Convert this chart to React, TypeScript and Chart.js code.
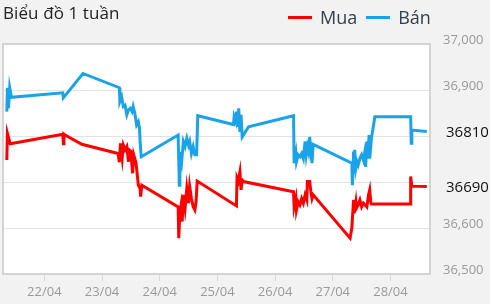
import React, { useEffect, useRef } from 'react';
import { Chart, registerables } from 'chart.js';

Chart.register(...registerables);

const TITLE = 'Biểu đồ 1 tuần';
const SERIES_NAMES = ['Mua', 'Bán'];
const SERIES_COLORS = ['#ff0000', '#1aa3e8'];

const TICK_DAYS = [22, 23, 24, 25, 26, 27, 28];
const TICK_LABELS = ['22/04', '23/04', '24/04', '25/04', '26/04', '27/04', '28/04'];

const Y_MIN = 36500;
const Y_MAX = 37000;
const Y_STEP = 100;
const X_MIN = 21.284;
const X_MAX = 28.685;

// Mua (buy) — time in day-of-month (fractional), value
const buyDays = [
  21.35, 21.36, 21.41, 22.32, 22.33, 22.34, 22.36, 22.65, 23.28, 23.30,
  23.32, 23.35, 23.37, 23.40, 23.43, 23.46, 23.47, 23.50, 23.53, 23.55,
  23.59, 23.63, 23.66, 23.67, 23.69, 24.32, 24.33, 24.35, 24.37, 24.39,
  24.41, 24.44, 24.47, 24.50, 24.52, 24.55, 24.58, 24.61, 24.63, 24.65,
  25.33, 25.34, 25.36, 25.39, 25.41, 25.43, 25.45, 26.32, 26.33, 26.36,
  26.37, 26.40, 26.43, 26.46, 26.49, 26.52, 26.55, 26.56, 26.60, 26.62,
  26.64, 26.66, 27.30, 27.33, 27.36, 27.37, 27.40, 27.41, 27.44, 27.47,
  27.50, 27.53, 27.56, 27.59, 27.62, 27.64, 27.66, 27.67, 28.34, 28.35,
  28.37, 28.63,
];
const buyValues = [
  36748, 36806, 36783, 36804, 36783, 36804, 36802, 36782, 36762, 36743,
  36784, 36752, 36780, 36770, 36777, 36744, 36770, 36767, 36719, 36759,
  36741, 36693, 36686, 36668, 36693, 36646, 36578, 36635, 36650, 36614,
  36672, 36643, 36686, 36654, 36690, 36664, 36646, 36639, 36657, 36702,
  36648, 36708, 36701, 36722, 36683, 36704, 36701, 36679, 36646, 36664,
  36639, 36657, 36650, 36664, 36654, 36672, 36661, 36701, 36701, 36679,
  36664, 36672, 36578, 36600, 36661, 36632, 36657, 36643, 36650, 36661,
  36646, 36654, 36650, 36646, 36672, 36683, 36654, 36652, 36652, 36712,
  36691, 36690,
];

// Bán (sell)
const sellDays = [
  21.35, 21.36, 21.38, 21.40, 21.43, 22.32, 22.33, 22.67, 23.30, 23.31,
  23.34, 23.37, 23.40, 23.43, 23.46, 23.49, 23.52, 23.54, 23.57, 23.60,
  23.63, 23.65, 23.66, 23.68, 24.32, 24.34, 24.35, 24.38, 24.41, 24.44,
  24.47, 24.50, 24.52, 24.55, 24.58, 24.61, 24.64, 24.66, 25.28, 25.29,
  25.32, 25.33, 25.35, 25.37, 25.39, 25.41, 25.43, 25.45, 25.54, 26.32,
  26.33, 26.36, 26.37, 26.40, 26.43, 26.46, 26.49, 26.52, 26.54, 26.56,
  26.58, 26.60, 26.62, 26.64, 26.66, 27.33, 27.34, 27.36, 27.37, 27.38,
  27.40, 27.42, 27.44, 27.47, 27.50, 27.53, 27.55, 27.57, 27.59, 27.60,
  27.63, 27.64, 27.67, 27.73, 28.35, 28.36, 28.37, 28.63,
];
const sellValues = [
  36853, 36905, 36860, 36905, 36884, 36894, 36883, 36936, 36905, 36875,
  36885, 36864, 36867, 36846, 36857, 36860, 36853, 36864, 36849, 36824,
  36831, 36817, 36788, 36755, 36802, 36693, 36766, 36744, 36788, 36777,
  36795, 36780, 36788, 36762, 36777, 36759, 36759, 36844, 36825, 36842,
  36831, 36853, 36820, 36860, 36809, 36846, 36798, 36802, 36820, 36844,
  36741, 36762, 36744, 36759, 36755, 36762, 36751, 36788, 36759, 36777,
  36766, 36798, 36766, 36741, 36782, 36741, 36693, 36766, 36722, 36770,
  36730, 36744, 36737, 36751, 36759, 36748, 36762, 36733, 36788, 36751,
  36802, 36751, 36795, 36842, 36842, 36784, 36813, 36810,
];

const FONT = '"Open Sans", "Noto Sans", sans-serif';

const LAST_VALUES = [buyValues[buyValues.length - 1], sellValues[sellValues.length - 1]];

const toPoints = (xs: number[], ys: number[]) => xs.map((x, i) => ({ x, y: ys[i] }));

const framePlugin = {
  id: 'frame',
  beforeDraw(chart: any) {
    const { ctx, chartArea: a } = chart;
    ctx.save();
    ctx.fillStyle = '#ffffff';
    ctx.fillRect(a.left, a.top, a.right - a.left, a.bottom - a.top);
    ctx.restore();
  },
  afterDatasetsDraw(chart: any) {
    const { ctx, chartArea: a } = chart;
    ctx.save();
    ctx.strokeStyle = '#d3d3d3';
    ctx.lineWidth = 2;
    ctx.strokeRect(a.left, a.top, a.right - a.left, a.bottom - a.top);
    ctx.restore();
  },
  afterDraw(chart: any) {
    const { ctx, chartArea: a } = chart;
    const yScale = chart.scales.y;
    ctx.save();
    ctx.font = `15px ${FONT}`;
    ctx.fillStyle = '#111111';
    ctx.textAlign = 'left';
    ctx.textBaseline = 'middle';
    chart.data.datasets.forEach((ds: any) => {
      const last = ds.data[ds.data.length - 1];
      const y = yScale.getPixelForValue(last.y);
      ctx.fillText(String(last.y), a.right + 16, y + 1);
    });
    ctx.restore();
  },
};

export default function App() {
  const canvasRef = useRef<HTMLCanvasElement | null>(null);

  useEffect(() => {
    const canvas = canvasRef.current;
    if (!canvas) return;
    const chart = new Chart(canvas, {
      type: 'line',
      data: {
        datasets: [
          {
            label: SERIES_NAMES[0],
            data: toPoints(buyDays, buyValues),
            borderColor: SERIES_COLORS[0],
            backgroundColor: SERIES_COLORS[0],
            borderWidth: 3,
            pointRadius: 0,
            tension: 0,
            fill: false,
          },
          {
            label: SERIES_NAMES[1],
            data: toPoints(sellDays, sellValues),
            borderColor: SERIES_COLORS[1],
            backgroundColor: SERIES_COLORS[1],
            borderWidth: 3,
            pointRadius: 0,
            tension: 0,
            fill: false,
          },
        ],
      },
      options: {
        animation: false,
        responsive: false,
        maintainAspectRatio: false,
        layout: { padding: { left: 3, top: 44, right: 0, bottom: 0 } },
        plugins: {
          legend: { display: false },
          title: { display: false },
          tooltip: { enabled: false },
        },
        scales: {
          x: {
            type: 'linear',
            min: X_MIN,
            max: X_MAX,
            afterBuildTicks: (scale: any) => {
              scale.ticks = TICK_DAYS.map((v) => ({ value: v }));
            },
            afterFit: (scale: any) => {
              scale.height = 30;
            },
            grid: {
              drawOnChartArea: false,
              drawTicks: true,
              tickLength: 7,
              color: '#d8d8d8',
            },
            border: { display: false },
            ticks: {
              autoSkip: false,
              maxRotation: 0,
              padding: 3,
              color: '#9a9a9a',
              font: { family: FONT, size: 13 },
              callback: (value: any) => {
                const i = TICK_DAYS.indexOf(Number(value));
                return i >= 0 ? TICK_LABELS[i] : '';
              },
            },
          },
          y: {
            type: 'linear',
            position: 'right',
            min: Y_MIN,
            max: Y_MAX,
            afterFit: (scale: any) => {
              scale.width = 60;
            },
            grid: {
              color: '#e3e3e3',
              drawTicks: false,
            },
            border: { display: false },
            ticks: {
              stepSize: Y_STEP,
              padding: 13,
              labelOffset: -4,
              color: '#9a9a9a',
              font: { family: FONT, size: 13 },
              callback: (value: any) => {
                const v = Number(value);
                if (LAST_VALUES.some((lv) => Math.abs(lv - v) < 40)) return '';
                return v.toLocaleString('en-US');
              },
            },
          },
        },
      },
      plugins: [framePlugin],
    });
    return () => chart.destroy();
  }, []);

  return (
    <div
      style={{
        position: 'absolute',
        left: 0,
        top: 0,
        width: 490,
        height: 304,
        background: '#f2f2f2',
        fontFamily: FONT,
        overflow: 'hidden',
      }}
    >
      <canvas
        ref={canvasRef}
        width={490}
        height={304}
        style={{ position: 'absolute', left: 0, top: 0, width: 490, height: 304 }}
      />
      <div
        style={{
          position: 'absolute',
          left: 3,
          top: 2,
          fontSize: 17,
          letterSpacing: '0.1px',
          lineHeight: '22px',
          color: '#222222',
          whiteSpace: 'nowrap',
        }}
      >
        {TITLE}
      </div>
      <div
        style={{
          position: 'absolute',
          left: 288,
          top: 5,
          display: 'flex',
          alignItems: 'center',
          fontSize: 18,
          lineHeight: '24px',
          color: '#34404e',
          whiteSpace: 'nowrap',
        }}
      >
        {SERIES_NAMES.map((name, i) => (
          <span key={name} style={{ display: 'flex', alignItems: 'center', marginRight: 9 }}>
            <span
              style={{
                display: 'inline-block',
                width: 24,
                height: 3,
                background: SERIES_COLORS[i],
                marginRight: 8,
              }}
            />
            {name}
          </span>
        ))}
      </div>
    </div>
  );
}
